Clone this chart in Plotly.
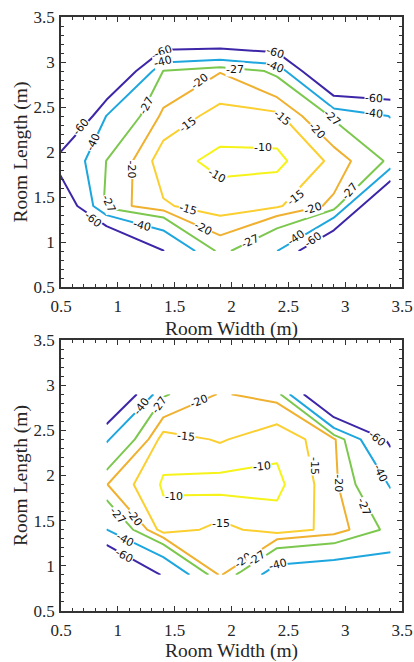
import plotly.graph_objects as go

# ---------------- data ----------------
LEVELS = [-60, -40, -27, -20, -15, -10]
LEVEL_COLORS = ['#3e26a8', '#1ea6de', '#7cc84e', '#efb12f', '#fbcf30', '#f5f31a']

# top panel: measured grid (x = room width, y = room length)
X_TOP = [0.4, 0.9, 1.4, 1.9, 2.4, 2.9, 3.4]
Y_TOP = [0.9, 1.4, 1.9, 2.4, 2.9, 3.4]
Z_TOP = [
    [-130.0, -105.0, -60.5, -24.0, -39.8, -92.9, -110.0],
    [-94.6, -23.5, -15.6, -12.5, -14.3, -21.4, -100.0],
    [-61.7, -26.8, -12.1, -8.6, -8.6, -16.3, -28.5],
    [-125.0, -39.5, -18.5, -13.0, -13.6, -28.1, -40.5],
    [-140.0, -96.4, -26.8, -20.3, -28.9, -99.3, -94.5],
    [-150.0, -130.0, -96.8, -99.7, -104.0, -130.0, -140.0],
]

# bottom panel
X_BOT = [0.9, 1.4, 1.9, 2.4, 2.9, 3.4]
Y_BOT = [0.9, 1.4, 1.9, 2.4, 2.9]
Z_BOT = [
    [-98.8, -58.0, -19.0, -48.0, -51.5, -50.6],
    [-40.2, -12.0, -16.7, -12.45, -16.4, -29.4],
    [-20.2, -9.36, -8.03, -8.65, -18.3, -41.0],
    [-41.5, -12.4, -15.6, -11.5, -18.5, -64.0],
    [-96.6, -28.0, -19.5, -22.0, -103.0, -110.0],
]

TICK_VALS = [0.5, 1, 1.5, 2, 2.5, 3, 3.5]
TICK_TEXT = ['0.5', '1', '1.5', '2', '2.5', '3', '3.5']

# inline contour labels: (level, x, y, text angle)
LABELS_TOP = [
    (-60, 0.68, 2.28, -50), (-40, 0.78, 2.11, -64), (-27, 1.25, 2.52, -62),
    (-20, 1.72, 2.78, -38), (-15, 1.62, 2.30, -37), (-60, 1.40, 3.12, -20),
    (-40, 1.40, 3.00, -15), (-27, 2.03, 2.92, 0), (-60, 2.38, 3.10, 18),
    (-40, 2.38, 2.95, 22), (-60, 3.25, 2.59, 3), (-40, 3.25, 2.43, 5),
    (-27, 2.88, 2.38, 43), (-20, 2.75, 2.24, 47), (-15, 2.44, 2.38, 40),
    (-10, 2.28, 2.05, 0), (-10, 1.87, 1.74, 30), (-15, 2.57, 1.49, -37),
    (-20, 2.72, 1.37, -18), (-27, 3.04, 1.56, -50), (-27, 2.16, 1.01, -25),
    (-40, 2.57, 1.05, -35), (-60, 2.72, 1.03, -35), (-20, 1.12, 1.80, 90),
    (-27, 0.92, 1.43, 65), (-60, 0.78, 1.25, 40), (-40, 1.21, 1.18, 15),
    (-15, 1.62, 1.36, 15), (-20, 1.75, 1.15, 27),
]
LABELS_BOT = [
    (-40, 1.21, 2.76, -52), (-27, 1.36, 2.78, -55), (-20, 1.71, 2.82, -22),
    (-15, 1.60, 2.43, 5), (-60, 3.28, 2.41, 40), (-40, 3.31, 2.02, 65),
    (-15, 2.73, 2.10, 90), (-20, 2.94, 1.91, 90), (-10, 2.27, 2.10, -5),
    (-27, 3.17, 1.65, 68), (-15, 1.91, 1.47, 0), (-20, 2.10, 1.06, -35),
    (-27, 2.22, 1.08, -35), (-40, 2.41, 1.01, -15), (-10, 1.49, 1.77, 0),
    (-20, 1.14, 1.53, 52), (-27, 1.00, 1.56, 50), (-40, 1.06, 1.29, 28),
    (-60, 1.05, 1.11, 28),
]

# ---------------- figure ----------------
W, H = 414, 662
fig = go.Figure()

for xs, ys, zs, xa, ya in [(X_TOP, Y_TOP, Z_TOP, 'x', 'y'), (X_BOT, Y_BOT, Z_BOT, 'x2', 'y2')]:
    for lev, col in zip(LEVELS, LEVEL_COLORS):
        fig.add_trace(go.Contour(
            x=xs, y=ys, z=zs, xaxis=xa, yaxis=ya,
            contours=dict(start=lev, end=lev, size=1, coloring='none', showlabels=False),
            line=dict(color=col, width=2, smoothing=0),
            showscale=False, hoverinfo='skip', showlegend=False,
        ))

annotations = []
for labels, xr, yr in [(LABELS_TOP, 'x', 'y'), (LABELS_BOT, 'x2', 'y2')]:
    for lev, lx, ly, ang in labels:
        annotations.append(dict(
            x=lx, y=ly, xref=xr, yref=yr, text=str(lev), showarrow=False,
            textangle=ang, font=dict(family='DejaVu Sans', size=11, color='#111111'),
            bgcolor='white', borderpad=0,
        ))

AX_COL = '#333333'
tick_font = dict(family='Liberation Serif', size=17, color='#262626')
title_font = dict(family='Liberation Serif', size=19.5, color='#262626')

def axis_style(title, standoff, label_gap):
    return dict(
        range=[0.5, 3.5], tickvals=TICK_VALS, ticktext=TICK_TEXT,
        ticks='inside', ticklen=5, tickwidth=1.2, tickcolor=AX_COL,
        showline=True, linecolor=AX_COL, linewidth=1.5, mirror='allticks',
        showgrid=False, zeroline=False, tickfont=tick_font,
        ticklabelstandoff=label_gap,
        minor=dict(ticks='inside', tick0=0.5, dtick=0.1, ticklen=3, tickwidth=1.2,
                   tickcolor=AX_COL, showgrid=False),
        title=dict(text=title, font=title_font, standoff=standoff),
        automargin=False, fixedrange=True,
    )

xdom = [61 / W, 402 / W]
fig.update_layout(
    width=W, height=H,
    margin=dict(l=0, r=0, t=0, b=0),
    paper_bgcolor='white', plot_bgcolor='white',
    xaxis=dict(axis_style('Room Width (m)', 6, 3), domain=xdom, anchor='y'),
    yaxis=dict(axis_style('Room Length (m)', 1, 1), domain=[1 - 287 / H, 1 - 17 / H], anchor='x'),
    xaxis2=dict(axis_style('Room Width (m)', 6, 3), domain=xdom, anchor='y2'),
    yaxis2=dict(axis_style('Room Length (m)', 1, 1), domain=[1 - 611 / H, 1 - 340 / H], anchor='x2'),
    annotations=annotations,
    showlegend=False,
)

fig.write_html(
    'out.html',
    config={'displayModeBar': False},
    post_script="document.body.style.margin='0';document.body.style.padding='0';",
)
